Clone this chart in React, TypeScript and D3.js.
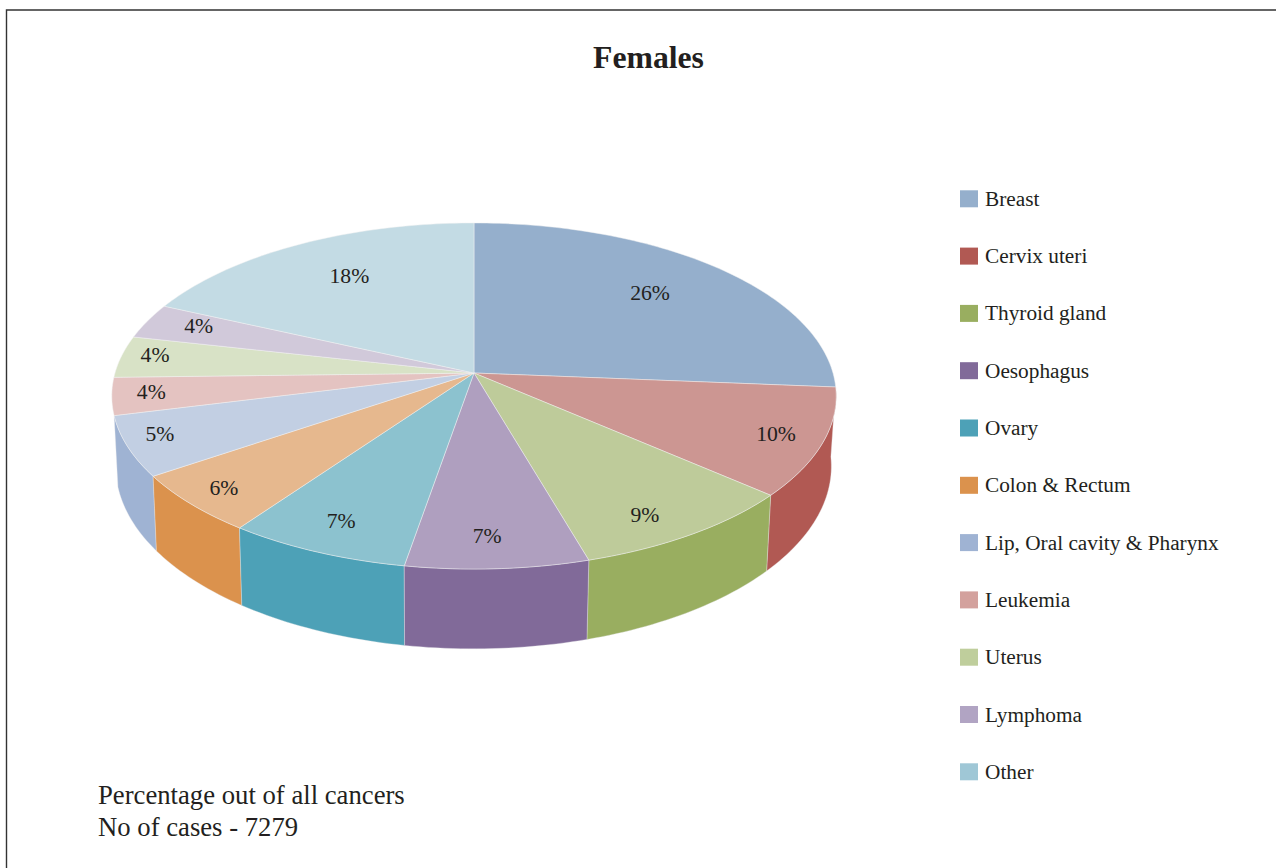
import React from "react";
import * as d3 from "d3";

const categories = ["Breast","Cervix uteri","Thyroid gland","Oesophagus","Ovary","Colon & Rectum","Lip, Oral cavity & Pharynx","Leukemia","Uterus","Lymphoma","Other"];
const shares = [26.3,10.1,9.1,7.2,7.2,5.6,5.6,3.5,3.9,3.3,18.2];
const shareLabels = ["26%","10%","9%","7%","7%","6%","5%","4%","4%","4%","18%"];
const legendColors = ["#95AFCC","#B15953","#99AE60","#816A99","#4DA1B7","#DB924D","#9FB3D3","#D3A19D","#BFCE9C","#B1A4C3","#9FC7D6"];
const topColors = ["#95AFCC","#CC9692","#BECB9A","#AF9FBF","#8CC2CF","#E6B88E","#C2CFE3","#E4C3C1","#D8E2C6","#D1C9DA","#C3DBE4"];
const sideColors = ["#95AFCC","#B15953","#99AE60","#816A99","#4DA1B7","#DB924D","#9FB3D3","#D3A19D","#BFCE9C","#B1A4C3","#9FC7D6"];
const labelNudges = [[-21,6],[26,6],[1,16],[-5,11],[-10,9],[-28,12],[-40,3],[-34,0],[-36,-5],[-12,-5],[18,8]];
const footer = ["Percentage out of all cancers","No of cases - 7279"];

const CX = 474, CY = 373, RX = 359, RY = 170, K = 0.1329;
const INK = "#231F20";
const FONT = "'Liberation Serif','Times New Roman',serif";

const plane = (a: number, r = 1) => {
  const x = Math.sin(a) * r, y = -Math.cos(a) * r, w = 1 - K * y;
  return [x / w, y / w];
};
const topPt = (a: number, r = 1): [number, number] => {
  const [x, y] = plane(a, r);
  return [CX + RX * x, CY + RY * y];
};
const bottomPt = (a: number): [number, number] => {
  const [x, y] = plane(a);
  return [CX - 0.5 + RX * 0.988 * x, CY + 69 + RY * 1.055 * y];
};
const line = d3.line<[number, number]>();
const samples = (a0: number, a1: number) => {
  const n = Math.max(2, Math.ceil((a1 - a0) / 0.02));
  return d3.range(n + 1).map((i) => a0 + ((a1 - a0) * i) / n);
};

export default function App() {
  const arcs = d3.pie<number>().sort(null).value((d) => d)(shares);
  // only the slices facing the viewer show a side wall, painted far to near
  const nearness = (d: { startAngle: number; endAngle: number }) => -Math.cos((d.startAngle + d.endAngle) / 2);
  const walls = arcs
    .map((d, i) => ({ d, i }))
    .filter(({ d }) => nearness(d) > 0.2)
    .sort((p, q) => nearness(p.d) - nearness(q.d));
  const legendY = d3.scalePoint<string>().domain(categories).range([198.8, 771.8]);
  return (
    <svg width={1276} height={868} viewBox="0 0 1276 868" style={{ position: "absolute", left: 0, top: 0, background: "#fff" }} fontFamily={FONT}>
      <path d="M6.5 868V10H1276" fill="none" stroke="#333" strokeWidth={1.4} />
      <text x={648.5} y={68} textAnchor="middle" fontSize={31.7} fontWeight="bold" fill={INK}>Females</text>

      {walls.map(({ d, i }) => {
        const as = samples(d.startAngle, d.endAngle);
        const pts = [...as.map((a) => topPt(a)), ...as.slice().reverse().map((a) => bottomPt(a))];
        return <path key={"s" + i} d={line(pts) + "Z"} fill={sideColors[i]} stroke="#E8E8EC" strokeWidth={0.5} strokeOpacity={0.7} />;
      })}
      {arcs.map((d, i) => {
        const as = samples(d.startAngle, d.endAngle);
        const pts: [number, number][] = [[CX, CY], ...as.map((a) => topPt(a))];
        return <path key={"t" + i} d={line(pts) + "Z"} fill={topColors[i]} stroke="#F2F2F2" strokeWidth={0.6} strokeOpacity={0.8} />;
      })}
      {arcs.map((d, i) => {
        const [x, y] = topPt((d.startAngle + d.endAngle) / 2, 0.8);
        return (
          <text key={"l" + i} x={x + labelNudges[i][0]} y={y + labelNudges[i][1] + 7} textAnchor="middle" fontSize={21.7} fill={INK}>
            {shareLabels[i]}
          </text>
        );
      })}

      {categories.map((c, i) => {
        const y = legendY(c) as number;
        return (
          <g key={c}>
            <rect x={960} y={y - 8.5} width={18} height={17} fill={legendColors[i]} />
            <text x={985} y={y + 7} fontSize={21.3} fill={INK}>{c}</text>
          </g>
        );
      })}

      {footer.map((t, i) => (
        <text key={t} x={98} y={804 + i * 32} fontSize={26.7} fill={INK}>{t}</text>
      ))}
    </svg>
  );
}
